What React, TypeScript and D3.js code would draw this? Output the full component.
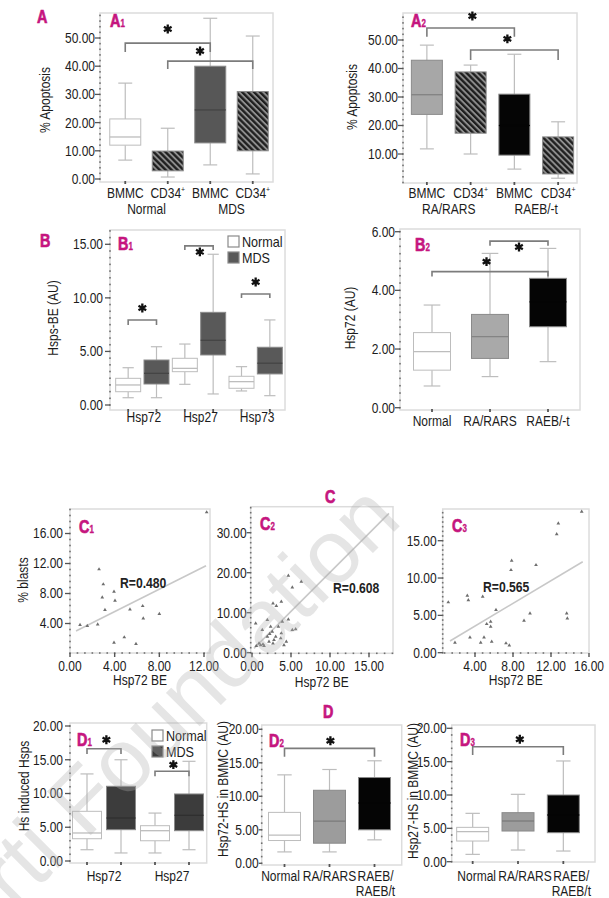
import * as d3 from 'd3'

const FONT = "'Liberation Sans', Arial, sans-serif"
const TAG = '#c5147e'
const FRAME = '#dcdcdc'
const WHISK = '#bdbdbd'
const TXT = '#1c1c1c'
const SX = 0.87
const fmt2 = d3.format('.2f')

// box stats are [min, q1, median, q3, max]
const a1Cats = ['BMMC', 'CD34+', 'BMMC', 'CD34+']
const a1Groups = ['Normal', 'MDS']
const a1Stats = [
  [6.7, 12.0, 14.9, 21.3, 34.0],
  [0.7, 2.9, 6.0, 9.9, 18.0],
  [5.0, 12.8, 24.5, 40.0, 57.0],
  [1.8, 10.0, 20.0, 31.0, 50.7],
]
const a2Cats = ['BMMC', 'CD34+', 'BMMC', 'CD34+']
const a2Groups = ['RA/RARS', 'RAEB/-t']
const a2Stats = [
  [11.8, 23.9, 30.8, 42.9, 48.2],
  [10.0, 17.3, 28.0, 38.8, 41.2],
  [4.7, 9.6, 20.0, 31.0, 45.0],
  [1.5, 3.0, 9.0, 16.0, 21.3],
]
const a1Ticks = [0, 10, 20, 30, 40, 50]
const a2Ticks = [10, 20, 30, 40, 50]

const b1Groups = ['Hsp72', 'Hsp27', 'Hsp73']
const b1Series = ['Normal', 'MDS']
const b1Stats = [
  [0.68, 1.24, 1.87, 2.49, 3.48],
  [0.68, 1.96, 2.96, 4.2, 5.44],
  [1.93, 3.11, 3.42, 4.36, 5.69],
  [1.03, 4.67, 6.04, 8.65, 14.07],
  [1.31, 1.56, 2.18, 2.68, 3.58],
  [0.87, 2.9, 3.9, 5.39, 7.94],
]
const b1Ticks = [0, 5, 10, 15]

const b2Cats = ['Normal', 'RA/RARS', 'RAEB/-t']
const b2Stats = [
  [0.74, 1.28, 1.91, 2.56, 3.5],
  [1.06, 1.68, 2.42, 3.18, 5.26],
  [1.57, 2.76, 3.61, 4.41, 5.43],
]
const b2Ticks = [0, 2, 4, 6]

// scatter plots: Hsp72 BE vs % blasts
const c1X = [12.24, 2.6, 2.98, 3.94, 2.89, 4.03, 3.13, 5.37, 6.51, 6.56, 8.0, 0.9, 1.55, 2.48, 3.94, 4.86, 5.91]
const c1Y = [18.83, 11.23, 9.23, 8.24, 7.49, 7.04, 5.8, 5.89, 6.33, 4.69, 5.27, 3.8, 3.67, 3.89, 1.44, 2.16, 1.27]
const c1Fit = [2.6, 0.747]
const c1FitX = [0.54, 12.18]
const c1XTicks = [0, 4, 8, 12]
const c1YTicks = [4, 8, 12, 16]

const c2X = [4.66, 6.32, 5.17, 2.69, 3.12, 3.76, 0.47, 1.97, 4.66, 3.89, 3.38, 2.39, 1.32, 2.6, 3.76, 5.17, 5.6, 1.97, 2.27, 3.04, 3.68, 2.82, 2.18, 4.4, 0.9, 1.41, 1.54, 1.11, 2.69, 4.1, 0.55]
const c2Y = [19.25, 17.75, 16.3, 12.3, 11.7, 12.75, 7.3, 8.2, 8.3, 7.75, 6.5, 6.5, 5.7, 5.25, 4.85, 5.7, 5.9, 4.0, 4.7, 4.0, 3.6, 3.2, 2.75, 2.75, 2.3, 2.1, 1.7, 1.9, 2.3, 1.9, 1.7]
const c2Fit = [0.59, 1.95]
const c2FitX = [0.26, 17.56]
const c2XTicks = [0, 5, 10, 15]
const c2YTicks = [0, 10, 20, 30]

const c3X = [15.23, 12.77, 12.6, 7.86, 7.79, 10.42, 1.19, 3.19, 3.3, 4.81, 6.21, 9.79, 9.16, 13.65, 13.72, 5.23, 5.65, 5.65, 3.47, 1.89, 4.6, 4.95, 5.76, 7.26, 7.61]
const c3Y = [18.88, 17.32, 15.89, 12.32, 11.07, 11.74, 6.75, 7.63, 7.05, 7.5, 5.72, 5.27, 4.28, 5.27, 4.6, 3.84, 4.15, 3.48, 2.06, 1.34, 1.34, 2.06, 1.47, 1.26, 0.99]
const c3Fit = [0.53, 0.76]
const c3FitX = [1.37, 15.34]
const c3XTicks = [4, 8, 12, 16]
const c3YTicks = [0, 5, 10, 15]

const d1Groups = ['Hsp72', 'Hsp27']
const d1Series = ['Normal', 'MDS']
const d1Stats = [
  [1.67, 3.3, 4.15, 7.36, 12.9],
  [1.19, 4.64, 6.37, 11.07, 15.0],
  [1.19, 3.0, 4.49, 5.23, 7.1],
  [1.67, 4.49, 6.77, 9.93, 14.77],
]
const dCats = [['Normal'], ['RA/RARS'], ['RAEB/', 'RAEB/t']]
const d2Stats = [
  [1.7, 3.4, 4.2, 7.6, 13.2],
  [1.7, 3.0, 6.3, 10.9, 14.0],
  [3.5, 5.0, 9.0, 12.8, 15.3],
]
const d3Stats = [
  [1.1, 3.1, 4.5, 5.15, 7.25],
  [1.75, 4.6, 6.1, 7.35, 10.1],
  [1.6, 4.35, 7.0, 10.0, 15.1],
]
const dTicks = [0, 5, 10, 15, 20]

const WHITE = '#ffffff'
const HATCH = 'url(#hatch)'

// condensed text: regular face squeezed horizontally
function T({ x, y, anchor = 'start', size = 13.8, weight = 400, fill = TXT, sx = SX, rot = 0, dy, stroke, children }: any) {
  return (
    <text transform={`translate(${x},${y})${rot ? ` rotate(${rot})` : ''} scale(${sx},1)`}
      textAnchor={anchor} fontSize={size} fontWeight={weight} fill={fill} dy={dy}
      stroke={stroke} strokeWidth={stroke ? 0.7 : undefined}>
      {children}
    </text>
  )
}

function Tag({ x, y, t, sub }: any) {
  return (
    <T x={x} y={y} size={18} weight={700} fill={TAG} stroke={TAG} sx={0.8}>
      {t}
      {sub && <tspan fontSize={10} strokeWidth={0.3}>{sub}</tspan>}
    </T>
  )
}

function Label({ x, y, text }: any) {
  const sup = text.endsWith('+')
  const base = sup ? text.slice(0, -1) : text
  return (
    <T x={x} y={y} anchor="middle">
      {base}
      {sup && <tspan fontSize={8} dy={-6}>+</tspan>}
    </T>
  )
}

function YTitle({ x, y, text }: any) {
  return <T x={x} y={y} rot={-90} anchor="middle" dy="0.35em">{text}</T>
}

function YAxis({ y, x, top, bottom, ticks, minor, gap }: any) {
  const lo = y.invert(bottom)
  const hi = y.invert(top)
  const dots = d3.range(Math.ceil(lo / minor) * minor, hi, minor)
  const dash = Math.min(gap, 5)
  return (
    <g>
      {dots.map((v: number, i: number) => (
        <rect key={i} x={x - 0.8} y={y(v) - 0.8} width={1.6} height={1.6} fill="#707070" />
      ))}
      {ticks.map((v: number) => (
        <g key={v}>
          <line x1={x - dash} x2={x} y1={y(v)} y2={y(v)} stroke="#555" strokeWidth={1.3} />
          <T x={x - gap} y={y(v)} dy="0.36em" anchor="end">{fmt2(v)}</T>
        </g>
      ))}
    </g>
  )
}

function BoxPanel(p: any) {
  const [x0, y0, x1, y1] = p.frame
  const x = d3.scalePoint<number>().domain(d3.range(p.stats.length)).range(p.xRange).padding(0.5)
  const y = d3.scaleLinear().domain(p.yDomain).range(p.yRange)
  const w = p.boxW
  const cap = w * 0.45
  const star = d3.symbol(d3.symbolAsterisk, 55)()
  const gsize = p.groupSize || 1
  return (
    <g>
      <rect x={x0} y={y0} width={x1 - x0} height={y1 - y0} fill="none" stroke={FRAME} strokeWidth={1.5} />
      <YAxis y={y} x={x0} top={y0} bottom={y1} ticks={p.ticks} minor={p.minor} gap={p.gap} />
      {p.stats.map((_: any, i: number) => (
        <rect key={i} x={x(i)! - 0.9} y={y1 - 1} width={1.8} height={3} fill="#555" />
      ))}
      {p.stats.map((s: number[], i: number) => {
        const [mn, q1, md, q3, mx] = s
        const cx = x(i)!
        const fill = p.fills[i]
        const medColor = fill === WHITE ? WHISK : fill === HATCH ? 'none' : d3.color(fill)!.darker(0.7).toString()
        return (
          <g key={i}>
            <line x1={cx} x2={cx} y1={y(q3)} y2={y(mx)} stroke={WHISK} strokeWidth={1.2} />
            <line x1={cx} x2={cx} y1={y(q1)} y2={y(mn)} stroke={WHISK} strokeWidth={1.2} />
            <line x1={cx - cap / 2} x2={cx + cap / 2} y1={y(mx)} y2={y(mx)} stroke={WHISK} strokeWidth={1.2} />
            <line x1={cx - cap / 2} x2={cx + cap / 2} y1={y(mn)} y2={y(mn)} stroke={WHISK} strokeWidth={1.2} />
            <rect x={cx - w / 2} y={y(q3)} width={w} height={y(q1) - y(q3)} fill={fill}
              stroke={fill === WHITE ? WHISK : '#8a8a8a'} strokeWidth={1} />
            <line x1={cx - w / 2} x2={cx + w / 2} y1={y(md)} y2={y(md)} stroke={medColor} strokeWidth={1.3} />
          </g>
        )
      })}
      {p.brackets.map((b: any, k: number) => {
        const xa = x(b.a)!
        const xb = x(b.b)!
        const sx = xa + (xb - xa) * (b.t ?? 0.5)
        return (
          <g key={k}>
            <path d={`M${xa},${y(b.drop)}V${y(b.y)}H${xb}V${y(b.drop)}`} fill="none" stroke="#7c7c7c" strokeWidth={1.6} />
            <path transform={`translate(${sx},${y(b.star)})`} d={star!} stroke="#111" strokeWidth={2.3} />
          </g>
        )
      })}
      {p.cats &&
        p.cats.map((c: any, i: number) =>
          (Array.isArray(c) ? c : [c]).map((line: string, j: number) => (
            <Label key={`${i}-${j}`} x={x(i)! + (p.catShift ? p.catShift[i] : 0)} y={p.catY + j * 15} text={line} />
          ))
        )}
      {p.groups &&
        p.groups.map((g: string, k: number) => {
          const xs = d3.range(k * gsize, (k + 1) * gsize).map((i) => x(i)!)
          return <Label key={g} x={d3.mean(xs)! + (p.groupShift || 0)} y={p.groupY} text={g} />
        })}
      {p.legend &&
        p.legend.items.map((it: string, k: number) => (
          <g key={it}>
            <rect x={p.legend.x} y={p.legend.y + k * 16} width={11} height={11}
              fill={p.legend.fills[k]} stroke="#8a8a8a" strokeWidth={1.2} />
            <T x={p.legend.x + 14} y={p.legend.y + k * 16 + 10.5} size={14.5}>{it}</T>
          </g>
        ))}
      <YTitle x={p.title[0]} y={p.title[1]} text={p.title[2]} />
      <Tag x={p.tag[0]} y={p.tag[1]} t={p.tag[2]} sub={p.tag[3]} />
    </g>
  )
}

function ScatterPanel(p: any) {
  const [x0, y0, x1, y1] = p.frame
  const x = d3.scaleLinear().domain(p.xDomain).range(p.xRange)
  const y = d3.scaleLinear().domain(p.yDomain).range(p.yRange)
  const tri = d3.symbol(d3.symbolTriangle, 6)()
  const xlo = x.invert(x0)
  const xhi = x.invert(x1)
  const xdots = d3.range(Math.ceil(xlo / p.xMinor) * p.xMinor, xhi, p.xMinor)
  const fy = (v: number) => p.fit[0] + p.fit[1] * v
  return (
    <g>
      <rect x={x0} y={y0} width={x1 - x0} height={y1 - y0} fill="none" stroke={FRAME} strokeWidth={1.5} />
      <YAxis y={y} x={x0} top={y0} bottom={y1} ticks={p.yTicks} minor={p.yMinor} gap={p.gap} />
      {xdots.map((v: number, i: number) => (
        <rect key={i} x={x(v) - 0.8} y={y1 - 0.8} width={1.6} height={1.6} fill="#707070" />
      ))}
      {p.xTicks.map((v: number) => (
        <g key={v}>
          <line x1={x(v)} x2={x(v)} y1={y1} y2={y1 + 4} stroke="#555" strokeWidth={1.4} />
          <T x={x(v)} y={y1 + 17.5} anchor="middle">{fmt2(v)}</T>
        </g>
      ))}
      <line x1={x(p.fitX[0])} y1={y(fy(p.fitX[0]))} x2={x(p.fitX[1])} y2={y(fy(p.fitX[1]))}
        stroke="#c8c8c8" strokeWidth={1.6} />
      {p.xs.map((v: number, i: number) => (
        <path key={i} d={tri!} transform={`translate(${x(v)},${y(p.ys[i])})`} fill="#6e6e6e" />
      ))}
      <T x={p.r[0]} y={p.r[1]} size={14.5} weight={700} fill="#222" sx={0.84}>{p.r[2]}</T>
      <T x={(x0 + x1) / 2} y={p.xTitleY} anchor="middle">Hsp72 BE</T>
      {p.title && <YTitle x={p.title[0]} y={p.title[1]} text={p.title[2]} />}
      <Tag x={p.tag[0]} y={p.tag[1]} t={p.tag[2]} sub={p.tag[3]} />
    </g>
  )
}

export default function App() {
  return (
    <svg width={609} height={898} fontFamily={FONT}
      style={{ position: 'absolute', left: 0, top: 0, background: '#fff' }}>
      <defs>
        <pattern id="hatch" patternUnits="userSpaceOnUse" width={4.2} height={4.2} patternTransform="rotate(-45)">
          <rect width={4.2} height={4.2} fill="#8e8e8e" />
          <rect width={2.3} height={4.2} fill="#1e1e1e" />
        </pattern>
      </defs>

      <Tag x={37} y={23} t="A" />
      <BoxPanel frame={[100, 13, 273, 182]} xRange={[104, 274]} yDomain={[0, 50]} yRange={[179, 38]}
        stats={a1Stats} fills={[WHITE, HATCH, '#575757', HATCH]} boxW={31} ticks={a1Ticks} minor={2} gap={5}
        cats={a1Cats} catY={198} groups={a1Groups} groupSize={2} groupY={214}
        brackets={[
          { a: 0, b: 2, y: 48.2, drop: 45, star: 53.2, t: 0.5 },
          { a: 1, b: 3, y: 41.8, drop: 39, star: 45.4, t: 0.38 },
        ]}
        title={[45, 100, '% Apoptosis']} tag={[110, 27, 'A', '1']} />
      <BoxPanel frame={[403, 13, 577, 183]} xRange={[405, 580]} yDomain={[0, 50]} yRange={[182.5, 40]}
        stats={a2Stats} fills={['#a7a7a7', HATCH, '#050505', HATCH]} boxW={31} ticks={a2Ticks} minor={2} gap={5}
        cats={a2Cats} catY={198} groups={a2Groups} groupSize={2} groupY={214}
        brackets={[
          { a: 0, b: 2, y: 54.2, drop: 51.1, star: 58.4, t: 0.52 },
          { a: 1, b: 3, y: 46.5, drop: 43, star: 50.4, t: 0.42 },
        ]}
        title={[352, 97, '% Apoptosis']} tag={[411, 27, 'A', '2']} />

      <Tag x={40} y={247} t="B" />
      <BoxPanel frame={[110, 230, 285, 410]} xRange={[114, 284]} yDomain={[0, 15]} yRange={[405, 244.3]}
        stats={b1Stats} fills={[WHITE, '#595959', WHITE, '#595959', WHITE, '#595959']} boxW={25}
        ticks={b1Ticks} minor={0.625} gap={7} groups={b1Groups} groupSize={2} groupY={422} groupShift={1.5}
        brackets={[
          { a: 0, b: 1, y: 7.94, drop: 7.47, star: 9.06 },
          { a: 2, b: 3, y: 14.85, drop: 14.47, star: 14.29, t: 0.53 },
          { a: 4, b: 5, y: 10.36, drop: 9.99, star: 11.48 },
        ]}
        legend={{ x: 228, y: 236, items: b1Series, fills: [WHITE, '#595959'] }}
        title={[53, 318, 'Hsps-BE (AU)']} tag={[118, 250, 'B', '1']} />
      <BoxPanel frame={[400, 229, 580, 410]} xRange={[403, 577]} yDomain={[0, 6]} yRange={[407.7, 231.7]}
        stats={b2Stats} fills={[WHITE, '#a9a9a9', '#050505']} boxW={37} ticks={b2Ticks} minor={0.25} gap={5}
        cats={b2Cats} catY={426}
        brackets={[
          { a: 0, b: 2, y: 4.64, drop: 4.47, star: 4.98, t: 0.47 },
          { a: 1, b: 2, y: 5.68, drop: 5.52, star: 5.48 },
        ]}
        title={[350, 318, 'Hsp72 (AU)']} tag={[415, 251, 'B', '2']} />

      <Tag x={325} y={503} t="C" />
      <ScatterPanel frame={[70, 509, 210, 653]} xDomain={[0, 12]} xRange={[70, 204]} yDomain={[0, 16]}
        yRange={[653.5, 533.5]} xs={c1X} ys={c1Y} fit={c1Fit} fitX={c1FitX} xTicks={c1XTicks} yTicks={c1YTicks}
        xMinor={0.667} yMinor={0.8} gap={7} r={[120, 588, 'R=0.480']} xTitleY={685}
        title={[23, 580, '% blasts']} tag={[79, 533, 'C', '1']} />
      <ScatterPanel frame={[250.7, 506.7, 393, 653.3]} xDomain={[0, 15]} xRange={[252, 369]} yDomain={[0, 30]}
        yRange={[652.7, 532.7]} xs={c2X} ys={c2Y} fit={c2Fit} fitX={c2FitX} xTicks={c2XTicks} yTicks={c2YTicks}
        xMinor={1} yMinor={1.25} gap={4} r={[333, 593, 'R=0.608']} xTitleY={687}
        tag={[260, 530, 'C', '2']} />
      <ScatterPanel frame={[442.7, 509, 589, 653]} xDomain={[4, 16]} xRange={[475, 589]} yDomain={[0, 15]}
        yRange={[652.7, 540.7]} xs={c3X} ys={c3Y} fit={c3Fit} fitX={c3FitX} xTicks={c3XTicks} yTicks={c3YTicks}
        xMinor={0.8} yMinor={0.625} gap={6} r={[483, 592, 'R=0.565']} xTitleY={685}
        tag={[452, 532, 'C', '3']} />

      <Tag x={323} y={718} t="D" />
      <BoxPanel frame={[70, 723, 206.7, 863]} xRange={[70, 206]} yDomain={[0, 20]} yRange={[861, 726]}
        stats={d1Stats} fills={[WHITE, '#3c3c3c', WHITE, '#3c3c3c']} boxW={29} ticks={dTicks} minor={1} gap={7}
        groups={d1Groups} groupSize={2} groupY={881}
        brackets={[
          { a: 0, b: 1, y: 16.64, drop: 15.85, star: 17.97, t: 0.57 },
          { a: 2, b: 3, y: 13.29, drop: 12.55, star: 14.27, t: 0.54 },
        ]}
        legend={{ x: 152, y: 730, items: d1Series, fills: [WHITE, '#3c3c3c'] }}
        title={[24, 786, 'Hs induced Hsps']} tag={[77, 746, 'D', '1']} />
      <BoxPanel frame={[261.7, 725, 401.7, 865]} xRange={[262, 397]} yDomain={[0, 20]} yRange={[863.3, 729.3]}
        stats={d2Stats} fills={[WHITE, '#9c9c9c', '#050505']} boxW={32} ticks={dTicks} minor={1} gap={3}
        cats={dCats} catY={881} catShift={[-4, 0, 1]}
        brackets={[{ a: 0, b: 2, y: 17.16, drop: 15.9, star: 18.3, t: 0.51 }]}
        title={[223, 789, 'Hsp72-HS in BMMC (AU)']} tag={[269, 747, 'D', '2']} />
      <BoxPanel frame={[451.7, 725, 595, 862]} xRange={[450, 586]} yDomain={[0, 20]} yRange={[861.7, 728.3]}
        stats={d3Stats} fills={[WHITE, '#9c9c9c', '#050505']} boxW={32} ticks={dTicks} minor={1} gap={5}
        cats={dCats} catY={881} catShift={[4, 7, 8]}
        brackets={[{ a: 0, b: 2, y: 17.24, drop: 16.0, star: 18.35, t: 0.52 }]}
        title={[413, 791, 'Hsp27-HS in BMMC (AU)']} tag={[460, 746, 'D', '3']} />

      <text transform="translate(404,522) rotate(-45)" textAnchor="end" fontSize={90}
        fill="#afafaf" opacity={0.32}>
        Ferrata Storti Foundation
      </text>
    </svg>
  )
}
